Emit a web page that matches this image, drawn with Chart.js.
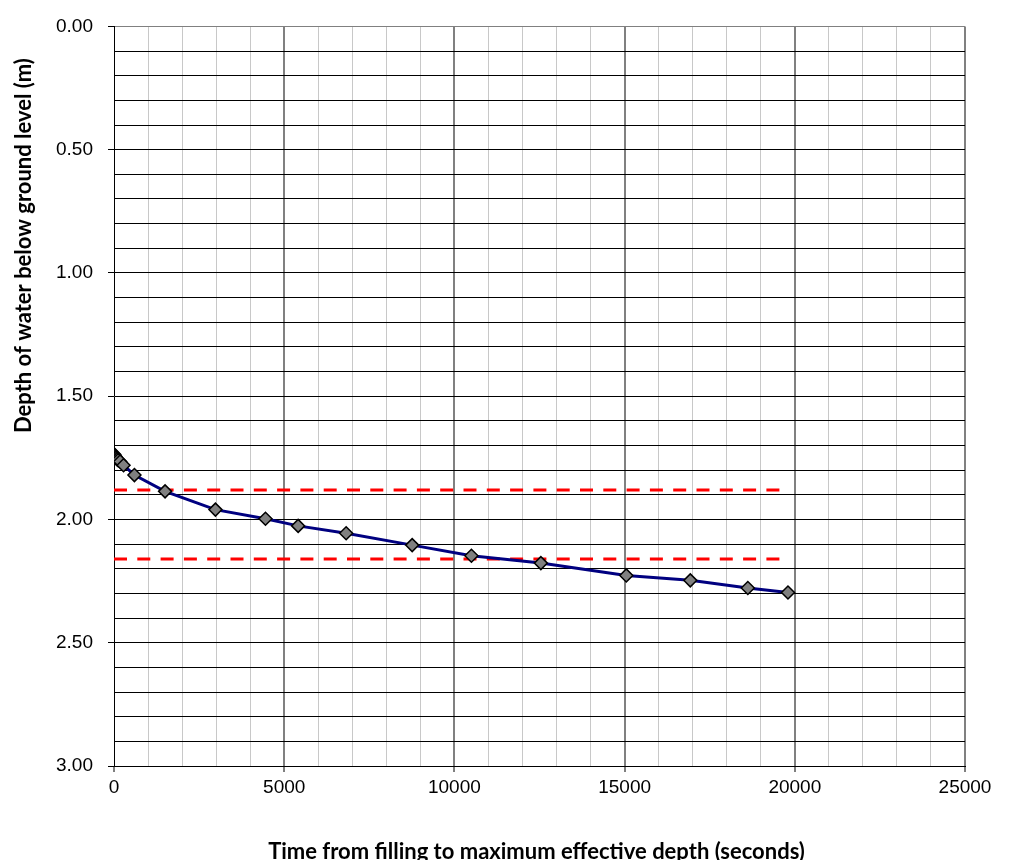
<!DOCTYPE html>
<html>
<head>
<meta charset="utf-8">
<script src="https://cdn.jsdelivr.net/npm/chart.js@4.4.1/dist/chart.umd.min.js"></script>
<style>
  html, body { margin: 0; padding: 0; background: #fff; overflow: hidden; }
  canvas { display: block; }
</style>
</head>
<body>
<canvas id="chart" width="1009" height="860"></canvas>
<script>
// measured drain-down readings
const timeSeconds = [0, 20, 40, 60, 90, 120, 180, 280, 600, 1500, 2980, 4450, 5410, 6820, 8760, 10500, 12540, 15050, 16930, 18620, 19800];
const depthMetres = [1.735, 1.74, 1.745, 1.75, 1.755, 1.76, 1.765, 1.78, 1.82, 1.886, 1.96, 1.997, 2.026, 2.056, 2.104, 2.147, 2.177, 2.227, 2.247, 2.278, 2.296];

// 75% / 25% effective depth levels
const upperLevel = 1.88;
const lowerLevel = 2.16;
const levelSpan = [0, 19800];

// axes
const xMin = 0, xMax = 25000, xStep = 1000, xLabelEvery = 5000;
const yMin = 0, yMax = 3, yStep = 0.1, yLabelEvery = 0.5;

const xTitle = 'Time from filling to maximum effective depth (seconds)';
const yTitle = 'Depth of water below ground level (m)';
const titleFont = 'bold 22px Lato, "Open Sans", sans-serif';

const isMultiple = (v, step) => Math.abs(v / step - Math.round(v / step)) < 1e-6;

const levelLine = (depth) => levelSpan.map(t => ({ x: t, y: depth }));

// axis titles drawn by hand: the y title sits above the middle, like the original sheet
const axisTitles = {
  id: 'axisTitles',
  afterDraw(chart) {
    const c = chart.ctx;
    const area = chart.chartArea;
    c.save();
    c.fillStyle = '#000';
    c.font = titleFont;
    c.textBaseline = 'alphabetic';
    c.textAlign = 'center';
    c.fillText(xTitle, (area.left + area.right) / 2 - 3, 859);
    c.translate(31, 433);
    c.rotate(-Math.PI / 2);
    c.textAlign = 'left';
    c.fillText(yTitle, 0, 0);
    c.restore();
  }
};

const ctx = document.getElementById('chart').getContext('2d');

new Chart(ctx, {
  type: 'scatter',
  data: {
    datasets: [
      {
        label: 'Depth',
        data: timeSeconds.map((t, i) => ({ x: t, y: depthMetres[i] })),
        showLine: true,
        borderColor: '#000080',
        borderWidth: 3,
        pointStyle: 'rectRot',
        pointRadius: 6.5,
        pointBackgroundColor: '#808080',
        pointBorderColor: '#000000',
        pointBorderWidth: 1.5,
        order: 1
      },
      {
        label: 'Upper',
        data: levelLine(upperLevel),
        showLine: true,
        borderColor: '#ff0000',
        borderWidth: 3,
        borderDash: [13, 10.3],
        pointRadius: 0,
        order: 2
      },
      {
        label: 'Lower',
        data: levelLine(lowerLevel),
        showLine: true,
        borderColor: '#ff0000',
        borderWidth: 3,
        borderDash: [13, 10.3],
        pointRadius: 0,
        order: 2
      }
    ]
  },
  plugins: [axisTitles],
  options: {
    responsive: false,
    maintainAspectRatio: false,
    animation: false,
    layout: { padding: { left: 0, top: 17, right: 44, bottom: 0 } },
    plugins: {
      legend: { display: false },
      tooltip: { enabled: false },
      title: { display: false }
    },
    scales: {
      x: {
        type: 'linear',
        min: xMin,
        max: xMax,
        afterFit: (scale) => { scale.height = 94; },
        ticks: {
          stepSize: xStep,
          autoSkip: false,
          maxRotation: 0,
          padding: 4,
          color: '#000',
          font: { family: '"Liberation Sans", Arial, sans-serif', size: 19 },
          callback: (v) => isMultiple(v, xLabelEvery) ? String(v) : ''
        },
        grid: {
          drawTicks: true,
          tickLength: 6,
          color: (c) => c.tick.value === xMin ? 'rgba(0,0,0,0)' : (isMultiple(c.tick.value, xLabelEvery) ? '#808080' : '#c8c8c8'),
          lineWidth: (c) => isMultiple(c.tick.value, xLabelEvery) ? 2 : 1,
          tickColor: (c) => isMultiple(c.tick.value, xLabelEvery) ? '#000' : 'rgba(0,0,0,0)',
          tickWidth: 1
        },
        border: { display: true, color: '#000', width: 1 }
      },
      y: {
        type: 'linear',
        reverse: true,
        min: yMin,
        max: yMax,
        afterFit: (scale) => { scale.width = 114; },
        ticks: {
          stepSize: yStep,
          autoSkip: false,
          padding: 15,
          color: '#000',
          font: { family: '"Liberation Sans", Arial, sans-serif', size: 19 },
          callback: (v) => isMultiple(v, yLabelEvery) ? Number(v).toFixed(2) : ''
        },
        grid: {
          drawTicks: true,
          tickLength: 6,
          color: (c) => c.tick.value === yMin ? '#808080' : '#000',
          lineWidth: 1,
          tickColor: (c) => isMultiple(c.tick.value, yLabelEvery) ? '#000' : 'rgba(0,0,0,0)',
          tickWidth: 1
        },
        border: { display: true, color: '#000', width: 1 }
      }
    }
  }
});
</script>
</body>
</html>
